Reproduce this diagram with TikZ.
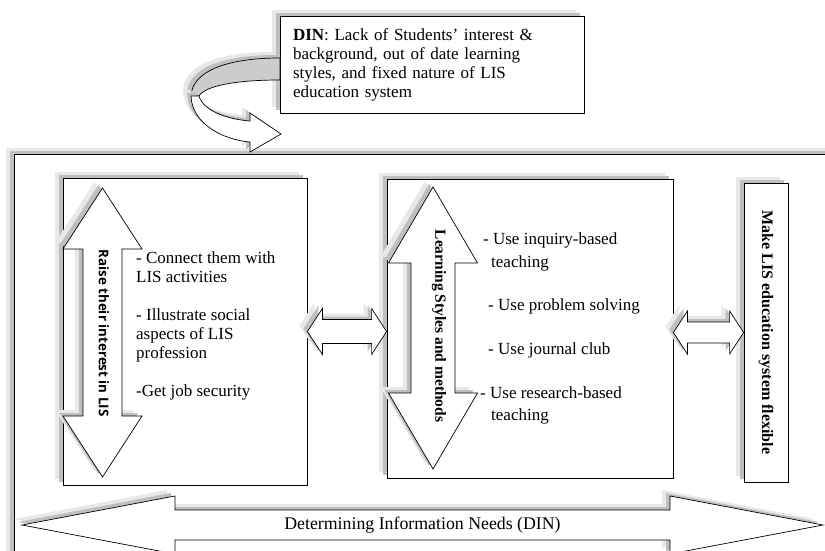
\documentclass[tikz,border=0pt]{standalone}
\usepackage{fontspec}
\setmainfont{Liberation Serif}
\newfontfamily\labelsans{Open Sans}
\usetikzlibrary{calc}

% double block arrows between two points
\newcommand\hdbl[5]{% #1,#2 ends; #3 head length; #4 half head; #5 half shaft
  \draw[blockarrow] let \p1=#1, \p2=#2 in
    (\x1,\y1) -- (\x1+#3,\y1+#4) -- (\x1+#3,\y1+#5) -- (\x2-#3,\y1+#5) -- (\x2-#3,\y1+#4) -- (\x2,\y1)
    -- (\x2-#3,\y1-#4) -- (\x2-#3,\y1-#5) -- (\x1+#3,\y1-#5) -- (\x1+#3,\y1-#4) -- cycle;}
\newcommand\vdbl[5]{%
  \draw[blockarrow] let \p1=#1, \p2=#2 in
    (\x1,\y1) -- (\x1+#4,\y1-#3) -- (\x1+#5,\y1-#3) -- (\x1+#5,\y2+#3) -- (\x1+#4,\y2+#3) -- (\x1,\y2)
    -- (\x1-#4,\y2+#3) -- (\x1-#5,\y2+#3) -- (\x1-#5,\y1-#3) -- (\x1-#4,\y1-#3) -- cycle;}

\tikzset{
  shad/.style={preaction={fill=gray!18,transform canvas={shift={(-8pt,6pt)}}},
               preaction={fill=gray!50,transform canvas={shift={(-4pt,3pt)}}}},
  panel/.style={draw,line width=0.8pt,fill=white,shad,inner sep=0pt},
  blockarrow/.style={draw,line width=0.7pt,fill=white,shad,line join=miter},
  txt/.style={font=\fontsize{17}{19}\selectfont,align=left,inner sep=0pt},
  sidelabel/.style={rotate=-90,inner sep=0pt}
}

\begin{document}
\begin{tikzpicture}[x=1pt,y=-1pt]
\useasboundingbox (0,0) rectangle (825,551);
\clip (0,0) rectangle (825,551);
% outer frame
\draw[panel] (14,154) rectangle (850,580);
% problem statement
\node[panel,txt,minimum width=304pt,minimum height=97pt,text width=278pt] (din) at (432,64.5)
  {\textbf{DIN}: Lack of Students' interest \&\\background, out of date learning\\styles, and fixed nature of LIS\\education system};
% turning ribbon
\draw[blockarrow,fill=gray!40] (280,58) .. controls (225,58) and (192,72) .. (191,96) -- (199,96)
  .. controls (205,86) and (235,80) .. (280,80) -- cycle;
\draw[blockarrow] (191,96) .. controls (192,125) and (225,140) .. (250,142) -- (250,152) -- (281,134)
  -- (250,113) -- (250,121) .. controls (225,119) and (203,110) .. (199,96) -- cycle;
% panels
\node[panel,minimum width=244pt,minimum height=307pt] (raise) at (185,331.5) {};
\node[panel,minimum width=286pt,minimum height=299pt] (learn) at (530,328.5) {};
\node[panel,minimum width=44pt,minimum height=299pt] (flex) at (766,332.5) {};
\node[sidelabel,font=\fontsize{16}{18}\selectfont\bfseries] (flexlbl) at (flex) {Make LIS education system flexible};
% raise interest
\coordinate (rtop) at (102.5,188);
\coordinate (rbot) at (102.5,477);
\vdbl{(rtop)}{(rbot)}{61pt}{39.5pt}{19.5pt}
\node[sidelabel,font=\labelsans\fontsize{13.4}{15}\selectfont\bfseries] (raiselbl) at (104,333) {Raise their interest in LIS};
\node[txt,anchor=base west] (raiseitems) at (136,396)
  {- Connect them with\\LIS activities\\[19pt]- Illustrate social\\aspects of LIS\\profession\\[19pt]-Get job security};
% learning styles
\coordinate (ltop) at (433,187);
\coordinate (lbot) at (433,469);
\vdbl{(ltop)}{(lbot)}{76pt}{44.5pt}{22pt}
\node[sidelabel,font=\fontsize{15.5}{18}\selectfont\bfseries] (learnlbl) at (439,326) {Learning Styles and methods};
\node[txt,anchor=base west] (learnitems) at (480,420)
  {\hspace*{3pt}- Use inquiry-based\\[4pt]\hspace*{11pt}teaching\\[24pt]\hspace*{8pt}- Use problem solving\\[25pt]%
   \hspace*{8pt}- Use journal club\\[25pt]- Use research-based\\[3pt]\hspace*{11pt}teaching};
% links between panels
\hdbl{(raise.east)}{(raise.east -| learn.west)}{15pt}{23pt}{12pt}
\hdbl{(flex.west -| learn.east)}{(flex.west)}{14pt}{21.5pt}{10.5pt}
% determining information needs
\coordinate (dinl) at (22,525);
\coordinate (dinr) at (823,525);
\hdbl{(dinl)}{(dinr)}{153pt}{29pt}{15pt}
\node[txt,font=\fontsize{17.8}{20}\selectfont] (dinlbl) at ($(dinl)!0.5!(dinr)$) {Determining Information Needs (DIN)};
\end{tikzpicture}
\end{document}
